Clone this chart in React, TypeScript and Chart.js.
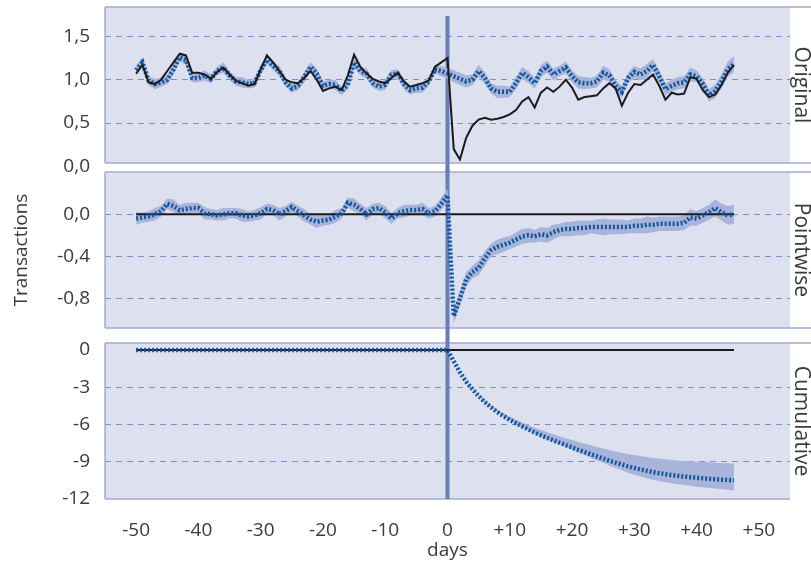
import React, { useEffect, useRef } from "react";
import { Chart, registerables } from "chart.js";

Chart.register(...registerables);

// ---------------- data ----------------
const DAYS = [
  -50, -49, -48, -47, -46, -45, -44, -43, -42, -41,
  -40, -39, -38, -37, -36, -35, -34, -33, -32, -31,
  -30, -29, -28, -27, -26, -25, -24, -23, -22, -21,
  -20, -19, -18, -17, -16, -15, -14, -13, -12, -11,
  -10, -9, -8, -7, -6, -5, -4, -3, -2, -1,
  0,
  1, 2, 3, 4, 5, 6, 7, 8, 9, 10,
  11, 12, 13, 14, 15, 16, 17, 18, 19, 20,
  21, 22, 23, 24, 25, 26, 27, 28, 29, 30,
  31, 32, 33, 34, 35, 36, 37, 38, 39, 40,
  41, 42, 43, 44, 45, 46,
];

const INTERVENTION_DAY = 0;

const ACTUAL = [
  1.07, 1.17, 0.97, 0.95, 1.0, 1.1, 1.2, 1.3, 1.28, 1.08,
  1.08, 1.06, 1.01, 1.09, 1.14, 1.06, 0.99, 0.96, 0.93, 0.95,
  1.12, 1.28, 1.2, 1.1, 1.0, 0.97, 0.96, 1.02, 1.1, 1.0,
  0.87, 0.9, 0.92, 0.88, 1.05, 1.29, 1.15, 1.07, 1.01, 0.98,
  0.96, 1.02, 1.08, 0.98, 0.92, 0.94, 0.96, 0.99, 1.15, 1.2,
  1.25,
  0.2, 0.08, 0.33, 0.47, 0.54, 0.56, 0.54, 0.55, 0.57, 0.6,
  0.65, 0.75, 0.8, 0.68, 0.85, 0.91, 0.86, 0.92, 1.0, 0.91,
  0.77, 0.8, 0.81, 0.82, 0.9, 0.96, 0.9, 0.7, 0.85, 0.95,
  0.94, 1.0, 1.06, 0.93, 0.77, 0.85, 0.83, 0.84, 1.03, 1.01,
  0.88, 0.8, 0.83, 0.94, 1.08, 1.17,
];

const PREDICTED = [
  1.11, 1.2, 0.99, 0.95, 0.97, 1.0, 1.12, 1.26, 1.23, 1.02,
  1.02, 1.05, 1.01, 1.1, 1.14, 1.05, 0.98, 0.97, 0.95, 0.96,
  1.11, 1.23, 1.16, 1.1, 0.97, 0.9, 0.93, 1.03, 1.15, 1.07,
  0.93, 0.95, 0.94, 0.87, 0.94, 1.2, 1.1, 1.07, 0.96, 0.92,
  0.94, 1.06, 1.07, 0.95, 0.88, 0.9, 0.91, 0.98, 1.12, 1.1,
  1.07,
  1.04, 1.01, 0.98, 1.0, 1.1, 1.02, 0.9, 0.86, 0.86, 0.86,
  0.96, 1.08, 1.03, 0.96, 1.1, 1.15, 1.06, 1.1, 1.14, 1.04,
  0.97, 0.96, 0.96, 0.98, 1.08, 1.05, 0.93, 0.86, 1.02, 1.09,
  1.06, 1.1, 1.17, 1.04, 0.89, 0.93, 0.96, 0.97, 1.06, 1.04,
  0.95, 0.82, 0.87, 0.98, 1.12, 1.18,
];

// half-width of the prediction interval (same for original & pointwise panels)
const BAND = [
  0.06, 0.05, 0.05, 0.06, 0.05, 0.05, 0.06, 0.05, 0.06, 0.05,
  0.05, 0.06, 0.05, 0.05, 0.06, 0.05, 0.05, 0.06, 0.05, 0.05,
  0.06, 0.05, 0.05, 0.06, 0.05, 0.05, 0.05, 0.06, 0.05, 0.06,
  0.05, 0.05, 0.06, 0.05, 0.05, 0.06, 0.05, 0.06, 0.05, 0.05,
  0.06, 0.05, 0.05, 0.06, 0.05, 0.05, 0.06, 0.05, 0.05, 0.06,
  0.06,
  0.07, 0.07, 0.07, 0.06, 0.07, 0.07, 0.06, 0.07, 0.07, 0.06,
  0.07, 0.07, 0.07, 0.06, 0.07, 0.07, 0.07, 0.06, 0.07, 0.07,
  0.07, 0.07, 0.06, 0.07, 0.08, 0.07, 0.07, 0.07, 0.06, 0.07,
  0.07, 0.08, 0.07, 0.07, 0.07, 0.07, 0.07, 0.07, 0.08, 0.07,
  0.07, 0.07, 0.08, 0.08, 0.09, 0.09,
];

const POINTWISE = [
  -0.04, -0.03, -0.02, 0.0, 0.03, 0.1, 0.08, 0.04, 0.05, 0.06,
  0.06, 0.01, 0.0, -0.01, 0.0, 0.01, 0.01, -0.01, -0.02, -0.01,
  0.01, 0.05, 0.04, 0.0, 0.03, 0.07, 0.03, -0.01, -0.05, -0.07,
  -0.06, -0.05, -0.02, 0.01, 0.11, 0.09, 0.05, 0.0, 0.05, 0.06,
  0.02, -0.04, 0.01, 0.03, 0.04, 0.04, 0.05, 0.01, 0.03, 0.1,
  0.18,
  -0.97, -0.8, -0.62, -0.55, -0.51, -0.42, -0.34, -0.31, -0.29, -0.27,
  -0.24, -0.21, -0.2, -0.21, -0.19, -0.2, -0.17, -0.15, -0.14, -0.14,
  -0.13, -0.13, -0.12, -0.12, -0.12, -0.12, -0.12, -0.12, -0.12, -0.11,
  -0.11, -0.1, -0.1, -0.09, -0.09, -0.09, -0.09, -0.08, -0.03, -0.04,
  -0.01, 0.02, 0.06, 0.02, -0.01, 0.0,
];

const CUMULATIVE = [
  0, 0, 0, 0, 0, 0, 0, 0, 0, 0,
  0, 0, 0, 0, 0, 0, 0, 0, 0, 0,
  0, 0, 0, 0, 0, 0, 0, 0, 0, 0,
  0, 0, 0, 0, 0, 0, 0, 0, 0, 0,
  0, 0, 0, 0, 0, 0, 0, 0, 0, 0,
  0,
  -0.9, -1.8, -2.55, -3.15, -3.7, -4.2, -4.62, -5.0, -5.33, -5.63,
  -5.9, -6.15, -6.4, -6.65, -6.87, -7.08, -7.28, -7.47, -7.66, -7.85,
  -8.04, -8.22, -8.4, -8.57, -8.74, -8.91, -9.07, -9.22, -9.37, -9.5,
  -9.62, -9.73, -9.83, -9.92, -10.0, -10.07, -10.13, -10.19, -10.24, -10.29,
  -10.33, -10.37, -10.41, -10.44, -10.47, -10.5,
];

// distance from the cumulative effect to the interval's upper / lower edge
const CUM_UP = [
  0, 0, 0, 0, 0, 0, 0, 0, 0, 0,
  0, 0, 0, 0, 0, 0, 0, 0, 0, 0,
  0, 0, 0, 0, 0, 0, 0, 0, 0, 0,
  0, 0, 0, 0, 0, 0, 0, 0, 0, 0,
  0, 0, 0, 0, 0, 0, 0, 0, 0, 0,
  0,
  0.02, 0.04, 0.06, 0.08, 0.1, 0.13, 0.16, 0.19, 0.22, 0.25,
  0.28, 0.31, 0.34, 0.38, 0.42, 0.45, 0.49, 0.52, 0.56, 0.6,
  0.64, 0.68, 0.72, 0.76, 0.8, 0.85, 0.9, 0.95, 1.0, 1.05,
  1.08, 1.11, 1.14, 1.17, 1.2, 1.22, 1.24, 1.26, 1.28, 1.3,
  1.31, 1.32, 1.33, 1.34, 1.35, 1.36,
];
const CUM_DOWN = [
  0, 0, 0, 0, 0, 0, 0, 0, 0, 0,
  0, 0, 0, 0, 0, 0, 0, 0, 0, 0,
  0, 0, 0, 0, 0, 0, 0, 0, 0, 0,
  0, 0, 0, 0, 0, 0, 0, 0, 0, 0,
  0, 0, 0, 0, 0, 0, 0, 0, 0, 0,
  0,
  0.01, 0.01, 0.02, 0.02, 0.03, 0.03, 0.04, 0.04, 0.05, 0.05,
  0.06, 0.07, 0.08, 0.09, 0.1, 0.11, 0.13, 0.14, 0.16, 0.18,
  0.21, 0.24, 0.28, 0.32, 0.35, 0.39, 0.43, 0.47, 0.51, 0.55,
  0.57, 0.59, 0.61, 0.63, 0.65, 0.67, 0.68, 0.69, 0.7, 0.72,
  0.73, 0.74, 0.75, 0.76, 0.78, 0.8,
];

const X_TICKS = [-50, -40, -30, -20, -10, 0, 10, 20, 30, 40, 50];
const Y1_TICKS = [0, 0.5, 1.0, 1.5];
const Y2_TICKS = [-0.8, -0.4, 0];
const Y3_TICKS = [-12, -9, -6, -3, 0];
const PANEL_TITLES = ["Original", "Pointwise", "Cumulative"];
const Y_TITLE = "Transactions";
const X_TITLE = "days";

// ---------------- style ----------------
const FONT = '"Open Sans", "Noto Sans", sans-serif';
const TEXT = "#3a3a3a";
const PANEL_BG = "#dde0ef";
const PANEL_BORDER = "#a2abd2";
const GRID = "#7f8ec5";
const VLINE = "#6b7db8";
const BAND_COLOR = "#a8b4da";
const DOT_COLOR = "#13569c";
const BLACK = "#1b1b1b";
const TICK_FONT = { family: FONT, size: 19 };

const W = 811;

function pts(vals: number[]) {
  return DAYS.map((d, i) => ({ x: d, y: vals[i] }));
}
function postPts(vals: number[]) {
  return DAYS.map((d, i) => ({ x: d, y: vals[i] })).filter((p) => p.x >= INTERVENTION_DAY);
}
const ZERO_LINE = [
  { x: DAYS[0], y: 0 },
  { x: DAYS[DAYS.length - 1], y: 0 },
];

function bandDs(data: any[], fill: any) {
  return {
    data,
    borderWidth: 0,
    borderColor: "rgba(0,0,0,0)",
    backgroundColor: BAND_COLOR,
    pointRadius: 0,
    fill,
    order: 3,
  };
}
function lineDs(data: any[], kind: "dot" | "solid", order: number) {
  return {
    data,
    borderColor: kind === "dot" ? DOT_COLOR : BLACK,
    borderWidth: kind === "dot" ? 4.5 : 2,
    borderDash: kind === "dot" ? [2, 2] : [],
    borderCapStyle: "butt",
    pointRadius: 0,
    fill: false,
    tension: 0,
    order,
  };
}

function comma(v: number) {
  return v.toFixed(1).replace(".", ",").replace("-0,0", "0,0");
}

function noPad(s: any) {
  s.paddingTop = 0;
  s.paddingBottom = 0;
  s.paddingLeft = 0;
  s.paddingRight = 0;
}

function leftAxis(min: number, max: number, ticks: number[], fmt: (v: number) => string, hide: number[], title?: string) {
  return {
    type: "linear",
    position: "left",
    min,
    max,
    afterBuildTicks: (s: any) => {
      s.ticks = ticks.map((v) => ({ value: v }));
    },
    afterFit: (s: any) => {
      s.width = 105;
      noPad(s);
    },
    ticks: { callback: (v: any) => fmt(Number(v)), font: TICK_FONT, color: TEXT, padding: 15, autoSkip: false },
    grid: {
      drawTicks: false,
      lineWidth: 1,
      color: (c: any) => (c.tick && hide.includes(c.tick.value) ? "rgba(0,0,0,0)" : GRID),
    },
    border: { display: false, dash: [6, 5] },
    title: title
      ? { display: true, text: title, font: { family: FONT, size: 19 }, color: TEXT, padding: { top: 10, bottom: 0 } }
      : { display: false },
  };
}

function rightAxis(title: string) {
  return {
    type: "linear",
    position: "right",
    display: true,
    ticks: { display: false },
    grid: { display: false, drawTicks: false },
    border: { display: false },
    title: { display: true, text: title, font: { family: FONT, size: 21, lineHeight: 1 }, color: TEXT, padding: 0 },
    afterFit: (s: any) => {
      s.width = 21;
      noPad(s);
    },
  };
}

function xAxis(show: boolean) {
  return {
    type: "linear",
    min: -55,
    max: 55,
    display: show,
    afterBuildTicks: (s: any) => {
      s.ticks = X_TICKS.map((v) => ({ value: v }));
    },
    afterFit: (s: any) => {
      if (show) s.height = 69;
      noPad(s);
    },
    ticks: {
      callback: (v: any) => (Number(v) > 0 ? "+" + v : String(v)),
      font: TICK_FONT,
      color: TEXT,
      padding: 20,
      autoSkip: false,
      maxRotation: 0,
    },
    grid: { display: false, drawTicks: false },
    border: { display: false },
    title: { display: true, text: X_TITLE, font: { family: FONT, size: 19 }, color: TEXT, padding: { top: 0, bottom: 6 } },
  };
}

function decoPlugin(vTop: number, vBottomAtArea: boolean, bottomFull: boolean) {
  return {
    id: "panelDeco",
    beforeDraw(chart: any) {
      const { ctx, chartArea: a } = chart;
      ctx.save();
      ctx.fillStyle = PANEL_BG;
      ctx.fillRect(a.left, a.top, a.right - a.left, a.bottom - a.top);
      ctx.restore();
    },
    beforeDatasetsDraw(chart: any) {
      const { ctx, chartArea: a, width, height } = chart;
      ctx.save();
      ctx.strokeStyle = PANEL_BORDER;
      ctx.lineWidth = 1.5;
      ctx.beginPath();
      ctx.moveTo(a.left, a.top);
      ctx.lineTo(width, a.top);
      ctx.moveTo(a.left, a.bottom);
      ctx.lineTo(bottomFull ? width : a.right, a.bottom);
      ctx.moveTo(a.left, a.top);
      ctx.lineTo(a.left, a.bottom);
      ctx.stroke();
      const x = chart.scales.x.getPixelForValue(INTERVENTION_DAY);
      const y1 = vBottomAtArea ? a.bottom : height;
      ctx.fillStyle = VLINE;
      ctx.fillRect(x - 2, vTop, 4, y1 - vTop);
      ctx.restore();
    },
  };
}

function baseOptions(padTop: number, padBottom: number, scales: any) {
  return {
    responsive: false,
    maintainAspectRatio: false,
    animation: false,
    events: [],
    layout: { autoPadding: false, padding: { top: padTop, bottom: padBottom, left: 0, right: 0 } },
    plugins: { legend: { display: false }, tooltip: { enabled: false } },
    scales,
  };
}

export default function App() {
  const r1 = useRef<HTMLCanvasElement>(null);
  const r2 = useRef<HTMLCanvasElement>(null);
  const r3 = useRef<HTMLCanvasElement>(null);

  useEffect(() => {
    const upper1 = PREDICTED.map((v, i) => v + BAND[i]);
    const lower1 = PREDICTED.map((v, i) => v - BAND[i]);
    const upper2 = POINTWISE.map((v, i) => v + BAND[i]);
    const lower2 = POINTWISE.map((v, i) => v - BAND[i]);
    const upper3 = CUMULATIVE.map((v, i) => v + CUM_UP[i]);
    const lower3 = CUMULATIVE.map((v, i) => v - CUM_DOWN[i]);

    const c1 = new Chart(r1.current as HTMLCanvasElement, {
      type: "line",
      data: {
        datasets: [
          bandDs(pts(upper1), "+1"),
          bandDs(pts(lower1), false),
          lineDs(pts(PREDICTED), "dot", 1),
          lineDs(pts(ACTUAL), "solid", 0),
        ] as any,
      },
      options: baseOptions(7, 22, {
        x: xAxis(false),
        y: leftAxis(0.04, 1.838, Y1_TICKS, comma, [0]),
        yR: rightAxis(PANEL_TITLES[0]),
      }) as any,
      plugins: [decoPlugin(16, false, true)],
    });

    const c2 = new Chart(r2.current as HTMLCanvasElement, {
      type: "line",
      data: {
        datasets: [
          bandDs(pts(upper2), "+1"),
          bandDs(pts(lower2), false),
          lineDs(ZERO_LINE, "solid", 1),
          lineDs(pts(POINTWISE), "dot", 0),
        ] as any,
      },
      options: baseOptions(3, 9, {
        x: xAxis(false),
        y: leftAxis(-1.083, 0.403, Y2_TICKS, comma, [], Y_TITLE),
        yR: rightAxis(PANEL_TITLES[1]),
      }) as any,
      plugins: [decoPlugin(0, false, true)],
    });

    const c3 = new Chart(r3.current as HTMLCanvasElement, {
      type: "line",
      data: {
        datasets: [
          bandDs(postPts(upper3), "+1"),
          bandDs(postPts(lower3), false),
          lineDs(ZERO_LINE, "solid", 1),
          lineDs(pts(CUMULATIVE), "dot", 0),
        ] as any,
      },
      options: baseOptions(6, 0, {
        x: xAxis(true),
        y: leftAxis(-12, 0.564, Y3_TICKS, (v) => String(v), [0, -12]),
        yR: rightAxis(PANEL_TITLES[2]),
      }) as any,
      plugins: [decoPlugin(0, true, false)],
    });

    return () => {
      c1.destroy();
      c2.destroy();
      c3.destroy();
    };
  }, []);

  return (
    <div style={{ position: "fixed", left: 0, top: 0, width: W, height: 568, background: "#ffffff" }}>
      <canvas ref={r1} width={W} height={185} style={{ position: "absolute", left: 0, top: 0, display: "block" }} />
      <canvas ref={r2} width={W} height={168} style={{ position: "absolute", left: 0, top: 169, display: "block" }} />
      <canvas ref={r3} width={W} height={231} style={{ position: "absolute", left: 0, top: 337, display: "block" }} />
    </div>
  );
}
